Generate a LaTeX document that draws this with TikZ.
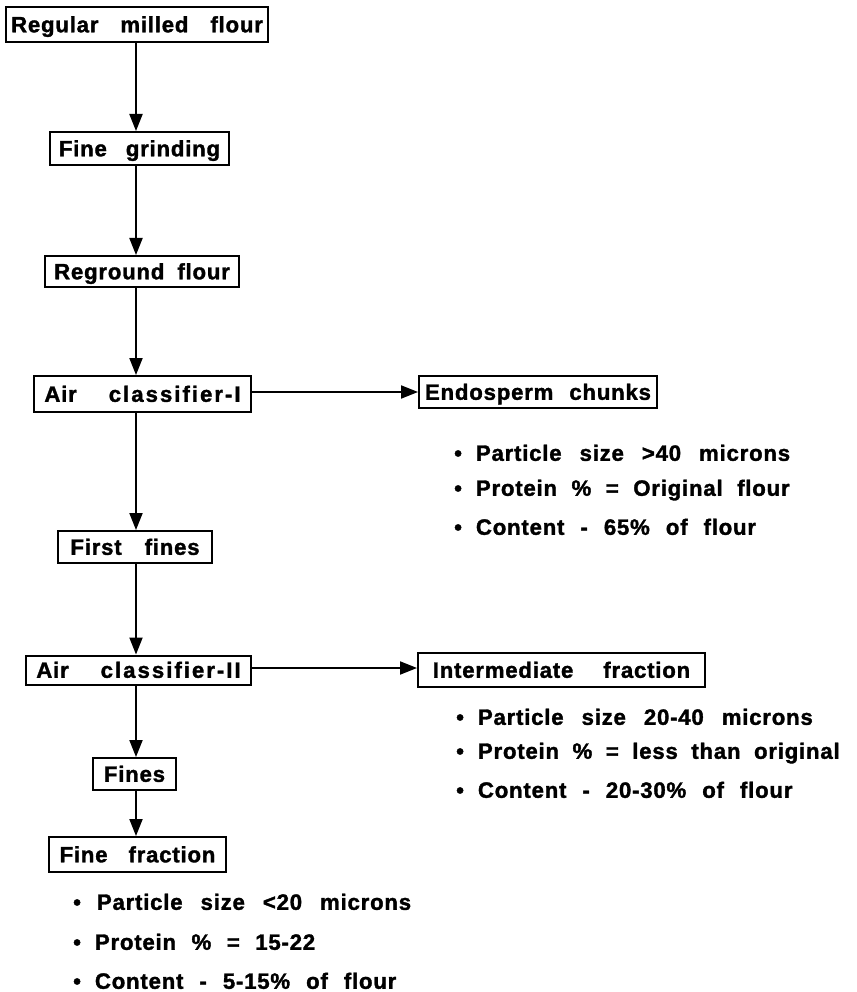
\documentclass[tikz,border=0pt]{standalone}
\usepackage{fontspec}
\setmainfont{Liberation Sans}[BoldFeatures={FakeBold=1.5}, LetterSpace=3.5]
\usetikzlibrary{arrows.meta}
\newcommand{\wg}[1]{\hspace{#1pt}}
\newcommand{\wide}[1]{{\addfontfeature{LetterSpace=9}#1}}

\begin{document}
\begin{tikzpicture}[x=1pt,y=-1pt,
  font=\fontsize{22.2}{26}\selectfont\bfseries,
  box/.style={draw, line width=2pt, inner sep=0pt, text height=15.6pt, text depth=0pt},
  link/.style={line width=2pt, -{Triangle[length=17pt,width=13pt]}},
  item/.style={anchor=west, inner sep=0pt, text height=15.6pt, text depth=0pt}]
\useasboundingbox (0,0) rectangle (856,992);

% main process chain
\node[box, minimum width=262pt, minimum height=35pt] (rmf) at (137,24.5) {Regular\wg{22}milled\wg{22}flour};
\node[box, minimum width=179pt, minimum height=33pt] (fg)  at (139.5,148.5) {Fine\wg{19}grinding};
\node[box, minimum width=194pt, minimum height=31pt] (rg) at (142,271.5) {Reground\wg{13}flour};
\node[box, minimum width=217pt, minimum height=36pt] (ac1) at (142.5,394) {Air\wg{32}\wide{classifier-I}};
\node[box, minimum width=154pt, minimum height=32pt] (ff1) at (135,547) {First\wg{23}fines};
\node[box, minimum width=225pt, minimum height=29pt] (ac2) at (138.5,670) {Air\wg{32}\wide{classifier-II}};
\node[box, minimum width=83pt, minimum height=32pt] (fines) at (134.5,774) {Fines};
\node[box, minimum width=177pt, minimum height=35pt] (ffr) at (137.5,854.5) {Fine\wg{21}fraction};

% side products
\node[box, minimum width=238pt, minimum height=32pt] (ec) at (538,392) {Endosperm\wg{16}chunks};
\node[box, minimum width=287pt, minimum height=34pt] (if) at (561.5,670) {Intermediate\wg{30}fraction};

% vertical spine of the flow
\coordinate (spine) at (136,0);
\draw[link] (rmf.south -| spine) -- (fg.north -| spine);
\draw[link] (fg.south -| spine) -- (rg.north -| spine);
\draw[link] (rg.south -| spine) -- (ac1.north -| spine);
\draw[link] (ac1.south -| spine) -- (ff1.north -| spine);
\draw[link] (ff1.south -| spine) -- (ac2.north -| spine);
\draw[link] (ac2.south -| spine) -- (fines.north -| spine);
\draw[link] (fines.south -| spine) -- (ffr.north -| spine);

% branches to the side fractions
\coordinate (b1) at (0,392);
\coordinate (b2) at (0,668);
\draw[link] (ac1.east |- b1) -- (ec.west |- b1);
\draw[link] (ac2.east |- b2) -- (if.west |- b2);

% properties of the endosperm chunks
\node[item] (e1) at (454,453) {\spaceskip=18pt\relax\textbullet\wg{14}Particle size >40 microns};
\node[item] (e2) at (454,488) {\spaceskip=14.5pt\relax\textbullet\wg{14}Protein \% = Original flour};
\node[item] (e3) at (454,527) {\spaceskip=16pt\relax\textbullet\wg{14}Content - 65\% of flour};

% properties of the intermediate fraction
\node[item] (i1) at (456,717) {\spaceskip=18pt\relax\textbullet\wg{14}Particle size 20-40 microns};
\node[item] (i2) at (456,751) {\spaceskip=13.5pt\relax\textbullet\wg{14}Protein \% = less than original};
\node[item] (i3) at (456,790) {\spaceskip=16pt\relax\textbullet\wg{14}Content - 20-30\% of flour};

% properties of the fine fraction
\node[item] (f1) at (73,902) {\spaceskip=18pt\relax\textbullet\wg{16}Particle size <20 microns};
\node[item] (f2) at (73,942) {\spaceskip=15.5pt\relax\textbullet\wg{14}Protein \% = 15-22};
\node[item] (f3) at (73,981) {\spaceskip=16pt\relax\textbullet\wg{14}Content - 5-15\% of flour};
\end{tikzpicture}
\end{document}
